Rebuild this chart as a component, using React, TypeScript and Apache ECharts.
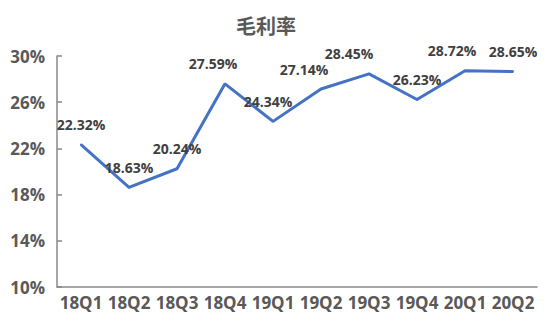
import React, { useEffect, useRef } from "react";
import * as echarts from "echarts";

const categories = ["18Q1", "18Q2", "18Q3", "18Q4", "19Q1", "19Q2", "19Q3", "19Q4", "20Q1", "20Q2"];
const grossMargin = [22.32, 18.63, 20.24, 27.59, 24.34, 27.14, 28.45, 26.23, 28.72, 28.65];
const labelShiftX = [0, 0, 0, -12, -5, -17, -20, 0, -13, 0];

export default function App() {
  const ref = useRef<HTMLDivElement>(null);
  useEffect(() => {
    if (!ref.current) return;
    const chart = echarts.init(ref.current, undefined, { renderer: "svg" });
    const font = "'Open Sans', 'Noto Sans CJK SC', sans-serif";
    chart.setOption({
      animation: false,
      backgroundColor: "#ffffff",
      title: {
        text: "毛利率",
        left: 261,
        textAlign: "center",
        top: 10,
        textStyle: { fontSize: 20, fontWeight: "bold", color: "#595959", fontFamily: "'Noto Sans CJK SC', sans-serif" },
      },
      grid: { left: 57, right: 15, top: 56, bottom: 43 },
      xAxis: {
        type: "category",
        data: categories,
        boundaryGap: true,
        axisLine: { lineStyle: { color: "#898989", width: 1.5 } },
        axisTick: { inside: true, length: 5, lineStyle: { color: "#898989", width: 1.5 } },
        axisLabel: { color: "#595959", fontSize: 17, fontWeight: "bold", fontFamily: font, margin: 7, interval: 0 },
      },
      yAxis: {
        type: "value",
        min: 10,
        max: 30,
        interval: 4,
        axisLine: { show: true, lineStyle: { color: "#898989", width: 1.5 } },
        axisTick: { show: true, inside: true, length: 5, lineStyle: { color: "#898989", width: 1.5 } },
        splitLine: { show: false },
        axisLabel: {
          color: "#595959",
          fontSize: 17,
          fontWeight: "bold",
          fontFamily: font,
          margin: 12,
          formatter: (v: number) => v + "%",
        },
      },
      series: [
        {
          type: "line",
          data: grossMargin.map((v, i) => ({
            value: v,
            label: { show: true, offset: [labelShiftX[i], 0] },
          })),
          symbol: "circle",
          symbolSize: 2,
          showSymbol: true,
          itemStyle: { color: "#4472C4" },
          lineStyle: { color: "#4472C4", width: 3 },
          label: {
            show: true,
            position: "top",
            distance: 12,
            color: "#404040",
            fontSize: 14,
            fontWeight: "bold",
            fontFamily: font,
            formatter: (p: any) => Number(p.value).toFixed(2) + "%",
          },
        },
      ],
    });
    return () => chart.dispose();
  }, []);
  return <div ref={ref} style={{ width: 552, height: 330, position: "absolute", left: 0, top: 0 }} />;
}
